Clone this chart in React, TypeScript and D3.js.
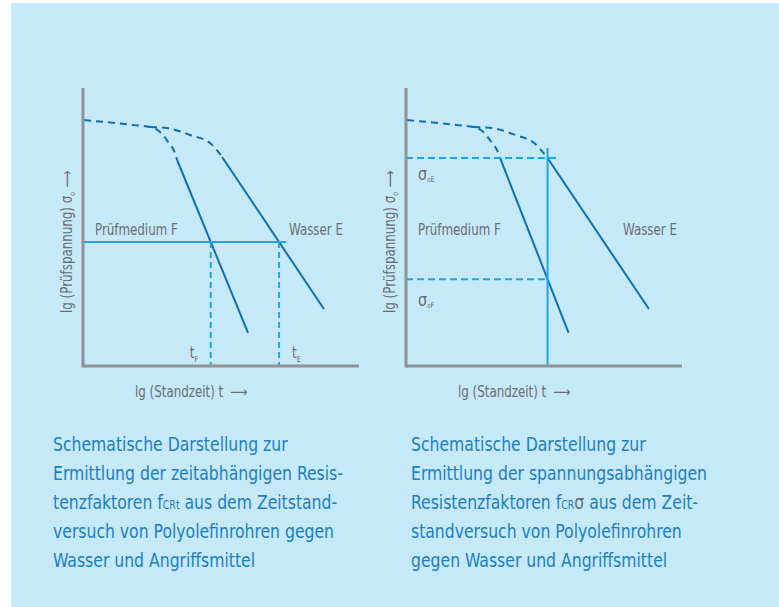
import type { ReactNode } from "react";
import { scaleLinear, line, curveMonotoneX } from "d3";

type Pt = [number, number];
type Seg = string | { sub: string } | { sym: string };

// Schematische Kurven, Einheiten: lg t (x) / lg σ (y), jeweils 0–10
const leftDashedF: Pt[] = [[0.04, 8.85], [1.81, 8.67], [2.43, 8.6], [2.79, 8.42], [3.08, 8.06], [3.33, 7.66], [3.41, 7.41]];
const leftDashedE: Pt[] = [[2.43, 8.6], [3.04, 8.56], [3.88, 8.31], [4.6, 8.02], [5.04, 7.52]];
const leftSolidF: Pt[] = [[3.41, 7.41], [5.98, 1.19]];
const leftSolidE: Pt[] = [[5.04, 7.52], [8.73, 2.05]];
const leftStress = 4.46; // Prüfspannung
const leftStressEnd = 7.36;

const rightDashedF: Pt[] = [[0.04, 8.85], [1.81, 8.67], [2.43, 8.6], [2.79, 8.42], [3.08, 8.06], [3.33, 7.68], [3.41, 7.45]];
const rightDashedE: Pt[] = [[2.43, 8.6], [3.1, 8.56], [3.95, 8.31], [4.65, 8.0], [5.11, 7.48]];
const rightSolidF: Pt[] = [[3.41, 7.45], [5.87, 1.19]];
const rightSolidE: Pt[] = [[5.11, 7.48], [8.77, 2.05]];
const rightTimeTop = 7.84;
const rightSigmaEEnd = 5.47;

const captionLeft: Seg[][] = [
  ["Schematische Darstellung zur"],
  ["Ermittlung der zeitabhängigen Resis-"],
  ["tenzfaktoren f", { sub: "CRt" }, " aus dem Zeitstand-"],
  ["versuch von Polyolefinrohren gegen"],
  ["Wasser und Angriffsmittel"],
];
const captionRight: Seg[][] = [
  ["Schematische Darstellung zur"],
  ["Ermittlung der spannungsabhängigen"],
  ["Resistenzfaktoren f", { sub: "CR" }, { sym: "σ" }, " aus dem Zeit-"],
  ["standversuch von Polyolefinrohren"],
  ["gegen Wasser und Angriffsmittel"],
];

const FONT = "'DejaVu Sans Condensed', 'Liberation Sans Narrow', 'Roboto', sans-serif";
const GRAY = "#6a6d70";
const AXIS = "#8e9295";
const DARK = "#0f6fb5";
const LIGHT = "#1ea6e2";
const CAPTION = "#1b7fc4";

// x auf der Geraden für gegebenes y (und umgekehrt)
const xAt = (seg: Pt[], y: number) => {
  const [[x0, y0], [x1, y1]] = seg;
  return x0 + ((y - y0) / (y1 - y0)) * (x1 - x0);
};
const yAt = (seg: Pt[], x: number) => {
  const [[x0, y0], [x1, y1]] = seg;
  return y0 + ((x - x0) / (x1 - x0)) * (y1 - y0);
};

// schmal laufender Text (Schrift ist breiter als im Original)
function CText({ x, y, k = 0.88, rotate = 0, size = 15, fill = GRAY, children }: {
  x: number; y: number; k?: number; rotate?: number; size?: number; fill?: string; children: ReactNode;
}) {
  return (
    <text
      transform={`translate(${x},${y}) rotate(${rotate}) scale(${k},1)`}
      fontFamily={FONT}
      fontSize={size}
      fill={fill}
    >
      {children}
    </text>
  );
}

function Axes({ ax }: { ax: number }) {
  return (
    <g stroke={AXIS} strokeWidth={3}>
      <line x1={ax} x2={ax} y1={88} y2={367.5} />
      <line x1={ax} x2={ax + 276} y1={366} y2={366} />
    </g>
  );
}

function AxisLabels({ ax }: { ax: number }) {
  return (
    <g>
      <CText x={ax - 11} y={313} rotate={-90}>
        lg (Prüfspannung) σ<tspan fontSize={8} dy={3}>o</tspan>
        <tspan dy={-3} dx={5} fontSize={15}>⟶</tspan>
      </CText>
      <CText x={ax + 52} y={397}>
        lg (Standzeit) t<tspan dx={8} fontSize={15}>⟶</tspan>
      </CText>
    </g>
  );
}

function Curves({ x, y, dashedF, dashedE, solidF, solidE }: any) {
  const gen = line<Pt>().x((d) => x(d[0])).y((d) => y(d[1])).curve(curveMonotoneX);
  const straight = line<Pt>().x((d) => x(d[0])).y((d) => y(d[1]));
  return (
    <g fill="none" stroke={DARK} strokeWidth={2}>
      <path d={gen(dashedF) ?? ""} strokeDasharray="7,5" />
      <path d={gen(dashedE) ?? ""} strokeDasharray="7,5" />
      <path d={straight(solidF) ?? ""} />
      <path d={straight(solidE) ?? ""} />
    </g>
  );
}

function LeftPanel() {
  const ax = 83;
  const x = scaleLinear().domain([0, 10]).range([ax, ax + 276]);
  const y = scaleLinear().domain([0, 10]).range([366, 88]);
  const tF = xAt(leftSolidF, leftStress);
  const tE = xAt(leftSolidE, leftStress);
  return (
    <g>
      <Curves x={x} y={y} dashedF={leftDashedF} dashedE={leftDashedE} solidF={leftSolidF} solidE={leftSolidE} />
      <line x1={x(0)} x2={x(leftStressEnd)} y1={y(leftStress)} y2={y(leftStress)} stroke={LIGHT} strokeWidth={2} />
      {[tF, tE].map((t, i) => (
        <line key={i} x1={x(t)} x2={x(t)} y1={y(leftStress)} y2={366} stroke={LIGHT} strokeWidth={2} strokeDasharray="6,4" />
      ))}
      <Axes ax={ax} />
      <CText x={ax + 12} y={235}>Prüfmedium F</CText>
      <CText x={ax + 206} y={235}>Wasser E</CText>
      <CText x={x(tF) - 21} y={358}>
        t<tspan fontSize={8} dy={4}>F</tspan>
      </CText>
      <CText x={x(tE) + 13} y={358}>
        t<tspan fontSize={8} dy={4}>E</tspan>
      </CText>
      <AxisLabels ax={ax} />
    </g>
  );
}

function RightPanel() {
  const ax = 406;
  const x = scaleLinear().domain([0, 10]).range([ax, ax + 277]);
  const y = scaleLinear().domain([0, 10]).range([366, 88]);
  const t = rightSolidE[0][0];
  const sigmaE = rightSolidE[0][1];
  const sigmaF = yAt(rightSolidF, t);
  return (
    <g>
      <Curves x={x} y={y} dashedF={rightDashedF} dashedE={rightDashedE} solidF={rightSolidF} solidE={rightSolidE} />
      <line x1={x(0)} x2={x(rightSigmaEEnd)} y1={y(sigmaE)} y2={y(sigmaE)} stroke={LIGHT} strokeWidth={2} strokeDasharray="7,4" />
      <line x1={x(0)} x2={x(t)} y1={y(sigmaF)} y2={y(sigmaF)} stroke={LIGHT} strokeWidth={2} strokeDasharray="7,4" />
      <line x1={x(t)} x2={x(t)} y1={y(rightTimeTop)} y2={366} stroke={LIGHT} strokeWidth={2} />
      <Axes ax={ax} />
      <CText x={ax + 12} y={235}>Prüfmedium F</CText>
      <CText x={ax + 217} y={235}>Wasser E</CText>
      <CText x={ax + 12} y={y(sigmaE) + 22} size={18}>
        σ<tspan fontSize={7} dy={2}>o</tspan><tspan fontSize={8}>E</tspan>
      </CText>
      <CText x={ax + 12} y={y(sigmaF) + 27} size={18}>
        σ<tspan fontSize={7} dy={2}>o</tspan><tspan fontSize={8}>F</tspan>
      </CText>
      <AxisLabels ax={ax} />
    </g>
  );
}

function Caption({ lines, x0 }: { lines: Seg[][]; x0: number }) {
  return (
    <g>
      {lines.map((segs, i) => (
        <CText key={i} x={x0} y={451 + i * 29} k={0.87} size={20} fill={CAPTION}>
          {segs.map((s, j) =>
            typeof s === "string" ? (
              <tspan key={j}>{s}</tspan>
            ) : "sub" in s ? (
              <tspan key={j} fontSize={12}>{s.sub}</tspan>
            ) : (
              <tspan key={j} fill={GRAY}>{s.sym}</tspan>
            )
          )}
        </CText>
      ))}
    </g>
  );
}

export default function App() {
  return (
    <div style={{ position: "absolute", left: 0, top: 0 }}>
      <svg width={779} height={607} style={{ display: "block" }}>
        <rect width={779} height={607} fill="#ffffff" />
        <rect x={11} y={3} width={768} height={604} fill="#c6e9f9" />
        <LeftPanel />
        <RightPanel />
        <Caption lines={captionLeft} x0={53} />
        <Caption lines={captionRight} x0={411} />
      </svg>
    </div>
  );
}
